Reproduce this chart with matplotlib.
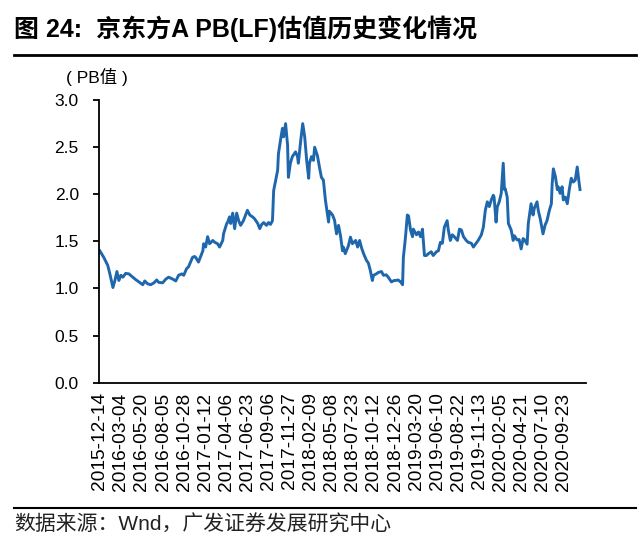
import numpy as np
import matplotlib
matplotlib.use("Agg")
import matplotlib.pyplot as plt

plt.rcParams['font.family'] = ['Liberation Sans', 'Noto Sans CJK SC', 'DejaVu Sans']

# trading-day offset from 2015-12-14 and PB(LF) value
day = [0, 10, 20, 25, 33, 38, 43, 48, 53, 58, 65, 73, 83, 90, 98, 108, 113, 120, 128, 136,
       143, 148, 158, 166, 173, 183, 191, 198, 206, 211, 218, 223, 233, 238, 241, 248, 259, 261, 266, 271,
       276, 284, 289, 296, 301, 309, 311, 319, 321, 326, 329, 334, 339, 344, 349, 354, 361, 371, 377, 384,
       389, 397, 402, 407, 412, 419, 424, 429, 434, 437, 442, 447, 449, 454, 459, 462, 467, 472, 474, 479,
       484, 489, 492, 497, 499, 505, 510, 515, 520, 525, 527, 532, 537, 540, 547, 552, 557, 562, 567, 572,
       575, 577, 585, 590, 595, 600, 605, 610, 612, 617, 625, 630, 635, 643, 648, 653, 658, 663, 670, 675,
       680, 685, 688, 695, 700, 708, 713, 720, 725, 733, 740, 743, 750, 756, 761, 763, 768, 773, 776, 781,
       786, 788, 796, 801, 806, 811, 816, 821, 826, 833, 838, 846, 851, 856, 861, 866, 873, 876, 881, 886,
       891, 899, 904, 909, 914, 921, 926, 934, 939, 946, 951, 959, 964, 969, 974, 979, 984, 989, 991, 996,
       999, 1004, 1009, 1014, 1017, 1019, 1024, 1027, 1034, 1039, 1042, 1049, 1054, 1059, 1064, 1067, 1074, 1077, 1084, 1089,
       1092, 1099, 1102, 1107, 1112, 1114, 1119, 1124, 1130, 1135, 1137, 1140, 1145, 1150, 1152, 1157, 1162, 1165, 1170, 1175,
       1180, 1185, 1190, 1195, 1200, 1205, 1207]
pb = [1.40, 1.33, 1.245, 1.16, 1.01, 1.085, 1.18, 1.085, 1.14, 1.12, 1.16, 1.155, 1.12, 1.095, 1.07, 1.04, 1.08, 1.05, 1.04, 1.06,
      1.09, 1.065, 1.06, 1.10, 1.12, 1.10, 1.08, 1.14, 1.155, 1.14, 1.21, 1.23, 1.33, 1.34, 1.33, 1.28, 1.40, 1.475, 1.44, 1.55,
      1.475, 1.51, 1.49, 1.475, 1.44, 1.51, 1.58, 1.69, 1.70, 1.76, 1.69, 1.80, 1.635, 1.80, 1.72, 1.67, 1.72, 1.83, 1.78, 1.76,
      1.74, 1.69, 1.635, 1.68, 1.70, 1.67, 1.70, 1.68, 1.72, 2.04, 2.15, 2.255, 2.43, 2.57, 2.70, 2.61, 2.75, 2.52, 2.18, 2.33,
      2.40, 2.43, 2.45, 2.40, 2.33, 2.57, 2.75, 2.61, 2.36, 2.17, 2.33, 2.40, 2.36, 2.50, 2.41, 2.29, 2.18, 2.15, 1.94, 1.79,
      1.705, 1.82, 1.78, 1.725, 1.58, 1.67, 1.56, 1.40, 1.44, 1.37, 1.455, 1.545, 1.475, 1.51, 1.44, 1.51, 1.43, 1.37, 1.30, 1.27,
      1.19, 1.085, 1.14, 1.155, 1.17, 1.18, 1.14, 1.145, 1.12, 1.07, 1.085, 1.085, 1.09, 1.07, 1.04, 1.33, 1.53, 1.78, 1.77, 1.62,
      1.55, 1.63, 1.57, 1.60, 1.55, 1.63, 1.35, 1.35, 1.37, 1.39, 1.35, 1.39, 1.40, 1.49, 1.48, 1.65, 1.72, 1.62, 1.51, 1.57,
      1.55, 1.51, 1.63, 1.62, 1.55, 1.51, 1.49, 1.48, 1.44, 1.48, 1.51, 1.57, 1.65, 1.83, 1.92, 1.87, 1.94, 1.99, 1.97, 1.705,
      1.865, 1.92, 2.01, 2.33, 2.05, 2.06, 1.97, 1.69, 1.62, 1.51, 1.56, 1.515, 1.52, 1.42, 1.53, 1.52, 1.47, 1.69, 1.90, 1.78,
      1.85, 1.92, 1.83, 1.74, 1.63, 1.58, 1.67, 1.72, 1.83, 1.90, 2.11, 2.27, 2.19, 2.05, 2.08, 2.01, 2.08, 1.94, 1.97, 1.90,
      2.05, 2.17, 2.13, 2.15, 2.29, 2.11, 2.05]

tick_labels = ['2015-12-14', '2016-03-04', '2016-05-20', '2016-08-05', '2016-10-28', '2017-01-12',
               '2017-04-06', '2017-06-23', '2017-09-06', '2017-11-27', '2018-02-09', '2018-05-08',
               '2018-07-23', '2018-10-12', '2018-12-26', '2019-03-20', '2019-06-10', '2019-08-22',
               '2019-11-13', '2020-02-05', '2020-04-21', '2020-07-10', '2020-09-23']
tick_step = 53  # trading days between labels

fig = plt.figure(figsize=(6.4, 5.53), dpi=100)
ax = fig.add_axes([0.1547, 0.308, 0.7609, 0.511])

ax.plot(day, pb, color='#1f67ad', lw=2.1)

ax.set_ylim(0, 3.0)
ax.set_yticks(np.arange(0, 3.01, 0.5))
ax.set_yticklabels([f'{v:.1f}' for v in np.arange(0, 3.01, 0.5)])
ax.set_xlim(-2, 1222)
ax.set_xticks(np.arange(len(tick_labels)) * tick_step)
ax.set_xticklabels(tick_labels, rotation=90)

for s in ['top', 'right']:
    ax.spines[s].set_visible(False)
for s in ['left', 'bottom']:
    ax.spines[s].set_linewidth(1.3)
    ax.spines[s].set_color('black')
ax.tick_params(axis='y', direction='out', length=4.5, width=1.3, pad=10, labelsize=12.5)
ax.tick_params(axis='x', length=0, pad=7, labelsize=13.8)

# title, rules and source
fig.text(0.022, 0.949, '图 24:  京东方A PB(LF)估值历史变化情况', fontsize=18, fontweight='bold',
         va='center', ha='left')
fig.add_artist(plt.Line2D([0.022, 0.994], [0.9005, 0.9005], color='black', lw=2))
fig.text(0.152, 0.861, '( PB值 )', fontsize=12.5, va='center', ha='center')
fig.add_artist(plt.Line2D([0.022, 0.994], [0.0814, 0.0814], color='black', lw=1.5))
fig.text(0.022, 0.0506, '数据来源：Wnd，广发证券发展研究中心', fontsize=15, va='center', ha='left',
         color='#222222')

fig.savefig('out.png', dpi=100)
